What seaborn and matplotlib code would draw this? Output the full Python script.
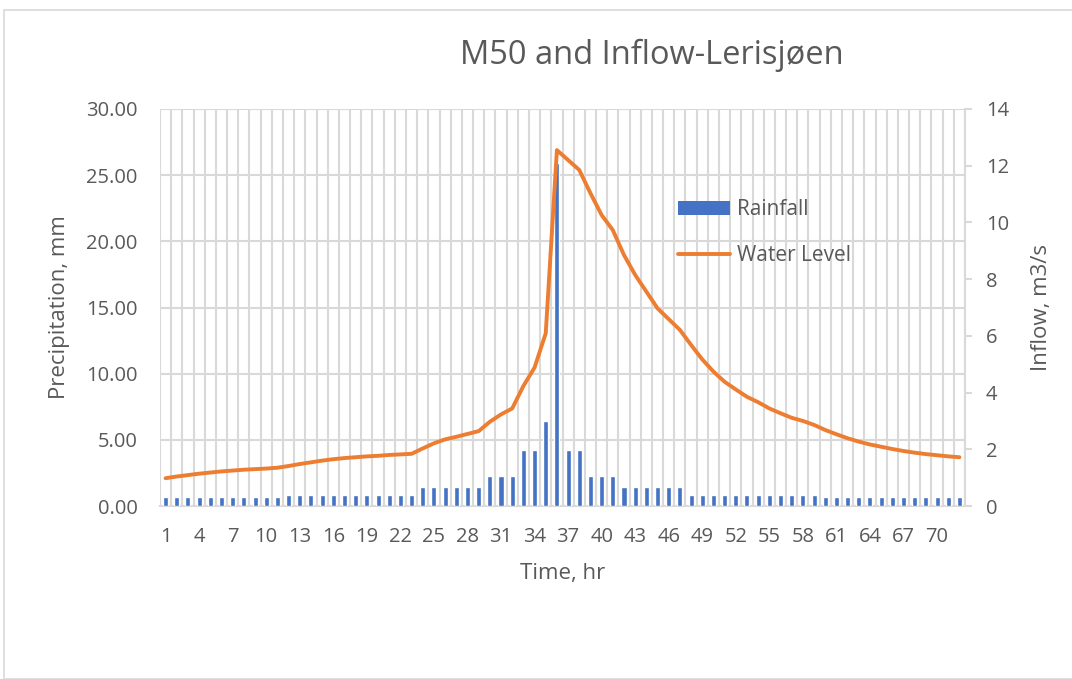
import numpy as np
import pandas as pd
import matplotlib
matplotlib.use("Agg")
import matplotlib.pyplot as plt
import seaborn as sns
from matplotlib.ticker import FixedLocator, FuncFormatter, MultipleLocator
from matplotlib.patches import Rectangle
from matplotlib.lines import Line2D
from matplotlib.patches import Patch

hours = list(range(1, 73))
rainfall = ([0.65] * 11 + [0.86] * 12 + [1.45] * 6 + [2.28] * 3 + [4.25] * 2 + [6.45] + [25.9]
            + [4.25] * 2 + [2.28] * 3 + [1.45] * 6 + [0.86] * 12 + [0.65] * 13)
water_level = [0.98, 1.04, 1.09, 1.14, 1.18, 1.22, 1.25, 1.28, 1.30, 1.32, 1.35,
               1.41, 1.48, 1.54, 1.60, 1.65, 1.69, 1.72, 1.75, 1.77, 1.80, 1.82, 1.84,
               2.03, 2.21, 2.35, 2.44, 2.54, 2.64, 2.97, 3.23, 3.44, 4.23, 4.88, 6.09,
               12.55, 12.2, 11.85, 11.03, 10.26, 9.73, 8.85, 8.15, 7.56, 6.97, 6.59, 6.21,
               5.68, 5.17, 4.74, 4.38, 4.11, 3.85, 3.66, 3.44, 3.27, 3.11, 3.00, 2.86,
               2.68, 2.53, 2.39, 2.27, 2.17, 2.09, 2.01, 1.94, 1.88, 1.83, 1.79, 1.75, 1.72]
xtick_labels = list(range(1, 73, 3))

title = "M50 and Inflow-Lerisjøen"
bar_color = "#4472C4"
line_color = "#ED7D31"
grid_color = "#D9D9D9"
text_color = "#595959"

sns.set_theme(style="white")
plt.rcParams['font.family'] = ['Open Sans', 'DejaVu Sans']

df = pd.DataFrame({"hour": hours, "rain": rainfall, "level": water_level})

fig = plt.figure(figsize=(10.72, 6.79), dpi=100)
fig.patches.append(Rectangle((4 / 1072, 0), 1.2, (679 - 10) / 679, transform=fig.transFigure,
                             fill=False, edgecolor=grid_color, linewidth=1.2))
ax = fig.add_axes([160 / 1072, 1 - 506 / 679, (965 - 160) / 1072, (506 - 109) / 679])

sns.barplot(data=df, x="hour", y="rain", native_scale=True, color=bar_color,
            width=0.45, saturation=1, ax=ax, zorder=3)
ax.set_xlim(0.5, 72.5)
ax.set_ylim(0, 30)
ax.yaxis.set_major_locator(MultipleLocator(5))
ax.yaxis.set_major_formatter(FuncFormatter(lambda v, p: f"{v:.2f}"))
ax.xaxis.set_major_locator(FixedLocator(xtick_labels))
ax.xaxis.set_major_formatter(FuncFormatter(lambda v, p: f"{int(round(v))}"))
ax.xaxis.set_minor_locator(FixedLocator(np.arange(0.5, 73, 1)))
ax.grid(False)
ax.grid(True, axis="y", which="major", color=grid_color, linewidth=1.5, zorder=0)
ax.grid(True, axis="x", which="minor", color=grid_color, linewidth=1.5, zorder=0)
ax.set_axisbelow(True)
for s in ["top", "right", "left"]:
    ax.spines[s].set_visible(False)
ax.spines["bottom"].set_color(grid_color)
ax.spines["bottom"].set_linewidth(1.5)
ax.tick_params(axis="both", which="both", length=0, labelsize=14.5, colors=text_color)
ax.tick_params(axis="y", pad=16)
ax.tick_params(axis="x", pad=15)
ax.set_xlabel("Time, hr", fontsize=16, color=text_color, labelpad=12)
ax.set_ylabel("Precipitation, mm", fontsize=16, color=text_color, labelpad=12)

ax2 = ax.twinx()
sns.lineplot(data=df, x="hour", y="level", color=line_color, linewidth=2.8, ax=ax2, zorder=4)
ax2.set_ylim(0, 14)
ax2.yaxis.set_major_locator(MultipleLocator(2))
for s in ["top", "left", "bottom"]:
    ax2.spines[s].set_visible(False)
ax2.spines["right"].set_color(grid_color)
ax2.spines["right"].set_linewidth(1.5)
ax2.tick_params(axis="y", length=5, width=1.5, color=grid_color, labelsize=14.5,
                labelcolor=text_color, pad=10)
ax2.set_ylabel("Inflow, m3/s", fontsize=16, color=text_color, labelpad=16)
ax2.grid(False)

fig.text(652 / 1072, 1 - 55 / 679, title, fontsize=23.5, color=text_color, ha="center", va="center")

handles = [Patch(facecolor=bar_color, edgecolor="none"),
           Line2D([0], [0], color=line_color, linewidth=2.8)]
leg = ax2.legend(handles, ["Rainfall", "Water Level"], loc="upper left",
                 bbox_to_anchor=((670 - 160) / 805, (506 - 191) / 397), frameon=False,
                 fontsize=15, labelspacing=1.2, handlelength=2.5, handleheight=0.67,
                 handletextpad=0.3, borderaxespad=0)
for t in leg.get_texts():
    t.set_color(text_color)

fig.savefig("out.png", dpi=100)
